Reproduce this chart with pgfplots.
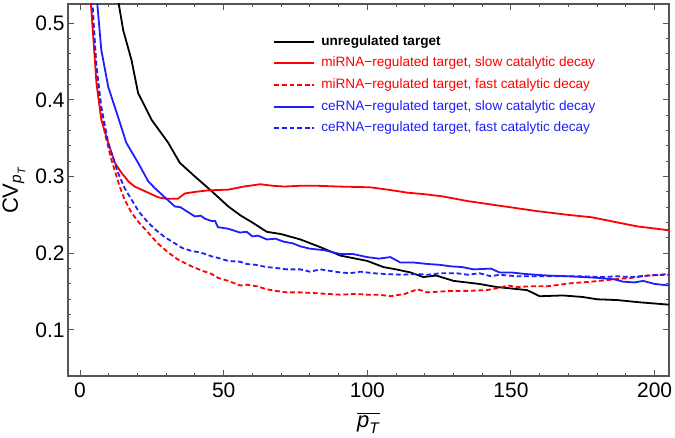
\documentclass[border=0pt]{standalone}
\usepackage{amsmath}
\usepackage{fontspec}
\setmainfont{Liberation Sans}
\usepackage{pgfplots}
\pgfplotsset{compat=1.18}
\definecolor{framegray}{RGB}{85,85,85}
\definecolor{myblue}{RGB}{30,30,255}
\begin{document}
\begin{tikzpicture}
\begin{axis}[
  scale only axis,
  width=300.5pt, height=186pt,
  xmin=-4.2, xmax=205, ymin=0.04, ymax=0.525,
  xtick={0,50,100,150,200},
  ytick={0.1,0.2,0.3,0.4,0.5},
  minor x tick num=4, minor y tick num=4,
  major tick length=3pt, minor tick length=1.6pt,
  tick style={framegray, line width=0.5pt},
  axis line style={framegray, line width=0.7pt},
  tick align=inside,
  /pgf/number format/assume math mode=true,
  ticklabel style={font=\fontsize{10.5}{12}\selectfont},
  yticklabel style={inner xsep=1.5pt, /pgf/number format/.cd, fixed, fixed zerofill, precision=1},
  xlabel={$\overline{\textit{p}_{\textit{T}}}$},
  ylabel={CV$_{\textit{p}_{\textit{T}}}$},
  label style={font=\fontsize{11}{13}\selectfont},
  legend cell align=left,
  legend style={draw=none, fill=none, at={(axis cs:67.2,0.490)}, anchor=north west,
    font=\fontsize{6.8}{8}\selectfont, row sep=0.4pt, inner sep=0pt,
    nodes={inner xsep=3pt}},
  legend image code/.code={\draw[#1, line width=0.9pt] (0pt,0pt) -- (20pt,0pt);},
  every axis plot/.append style={line width=0.9pt},
]
\coordinate (SW) at (rel axis cs:0,0);
\coordinate (NE) at (rel axis cs:1,1);

% unregulated target
\addplot[black] coordinates {
(12.8,0.54) (15,0.491) (17.9,0.452) (20.2,0.409) (24.9,0.374) (30.7,0.344) (34.7,0.318)
(40,0.300) (45.8,0.281) (51.6,0.261) (56,0.249) (60,0.240) (65,0.228) (70,0.225)
(76.7,0.218) (83.6,0.208) (90.6,0.197) (100,0.190) (105.6,0.182) (110,0.179)
(115,0.175) (119.5,0.169) (124,0.171) (130,0.164) (139,0.160) (145,0.156)
(155.6,0.152) (160,0.144) (168,0.145) (175,0.143) (180,0.140) (187,0.139)
(195,0.136) (205,0.133)};
\addlegendentry{\textbf{unregulated target}}

% miRNA slow
\addplot[red] coordinates {
(3.5,0.54) (4.5,0.487) (5.7,0.422) (7.4,0.374) (9.8,0.344) (12.1,0.318) (14.4,0.305)
(17,0.293) (19,0.287) (23.7,0.279) (27.2,0.273) (30,0.271) (34,0.271) (36.5,0.278)
(40,0.280) (44.6,0.282) (51.6,0.283) (57,0.287) (62.7,0.290) (67,0.288) (71,0.287)
(76.7,0.288) (82.5,0.288) (90,0.287) (101,0.286) (107,0.283) (114,0.279) (120,0.277)
(126.5,0.274) (135,0.268) (146,0.262) (159,0.255) (170,0.250) (178,0.247)
(186,0.241) (194,0.235) (205,0.230)};
\addlegendentry{\textcolor{red}{miRNA−regulated target, slow catalytic decay}}

% miRNA fast
\addplot[red, dash pattern=on 2.4pt off 1.4pt] coordinates {
(3.7,0.54) (5.1,0.465) (6.9,0.400) (8.6,0.357) (10.9,0.322) (13.8,0.287) (15.5,0.270)
(17.9,0.253) (20.5,0.240) (23.7,0.227) (27,0.213) (30.7,0.201) (34,0.192) (38.8,0.183)
(42,0.178) (45.8,0.173) (48,0.168) (51.6,0.164) (55.7,0.158) (58,0.159) (61.5,0.157)
(65,0.153) (68,0.151) (72,0.149) (76.7,0.149) (82,0.148) (86,0.147) (90.6,0.146)
(96,0.147) (100,0.146) (104,0.146) (108,0.144) (113,0.147) (117.4,0.153) (121,0.149)
(125,0.150) (130,0.151) (135,0.151) (141.6,0.152) (146,0.155) (149,0.158) (152,0.156)
(157,0.157) (162.6,0.157) (167,0.159) (171,0.161) (178,0.163) (186,0.166) (192,0.168)
(197.6,0.171) (205,0.172)};
\addlegendentry{\textcolor{red}{miRNA−regulated target, fast catalytic decay}}

% ceRNA slow
\addplot[myblue] coordinates {
(5.5,0.54) (6,0.525) (7.4,0.465) (9.8,0.417) (13.2,0.378) (16.1,0.344) (20.2,0.318)
(23.7,0.294) (26,0.285) (29.5,0.273) (33,0.261) (35,0.260) (37,0.255) (40,0.248)
(42,0.249) (43.5,0.245) (45.8,0.242) (47,0.242) (48,0.234) (51.6,0.232) (55.7,0.227)
(58,0.228) (60,0.222) (62,0.223) (65,0.218) (68,0.219) (71,0.215) (74,0.213)
(76.7,0.209) (80,0.206) (85,0.204) (90.6,0.199) (95,0.199) (100,0.195) (104,0.193)
(108,0.195) (111.5,0.188) (116,0.188) (121,0.186) (125,0.185) (129,0.183) (133,0.182)
(137,0.179) (143,0.180) (146,0.175) (150,0.175) (155,0.173) (162.6,0.171) (170,0.170)
(180,0.168) (186,0.166) (189,0.163) (193,0.162) (196,0.164) (200,0.160) (205,0.158)};
\addlegendentry{\textcolor{myblue}{ceRNA−regulated target, slow catalytic decay}}

% ceRNA fast
\addplot[myblue, dash pattern=on 2.4pt off 1.4pt] coordinates {
(4.1,0.54) (5.7,0.443) (7.4,0.391) (9.8,0.344) (13.2,0.305) (15.5,0.285) (17.9,0.270)
(20.5,0.254) (23.7,0.240) (26.5,0.230) (29.5,0.221) (33,0.213) (35.5,0.207) (38.8,0.203)
(42,0.201) (45.8,0.196) (48,0.194) (51.6,0.190) (55.7,0.189) (58,0.186) (61,0.185)
(65,0.182) (68,0.181) (72,0.179) (76.7,0.179) (80,0.176) (83.6,0.179) (87,0.177)
(90.6,0.175) (94,0.174) (97.6,0.176) (102,0.174) (106,0.173) (112,0.172) (117.5,0.173)
(121,0.172) (125.5,0.174) (131,0.174) (135,0.172) (139,0.174) (143,0.170) (146,0.172)
(152,0.170) (160,0.170) (168,0.170) (175,0.170) (182,0.169) (187,0.170) (191.6,0.169)
(198,0.171) (205,0.173)};
\addlegendentry{\textcolor{myblue}{ceRNA−regulated target, fast catalytic decay}}
\end{axis}
\pgfresetboundingbox
\path ([shift={(-34pt,-31pt)}]SW) rectangle ([shift={(3pt,2pt)}]NE);
\end{tikzpicture}
\end{document}
